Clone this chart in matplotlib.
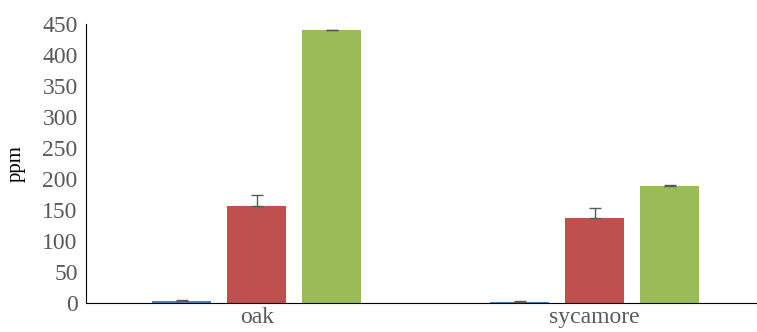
import numpy as np
import matplotlib.pyplot as plt

plt.rcParams['font.family'] = ['Liberation Serif', 'DejaVu Serif']

trees = ['oak', 'sycamore']
series_a = [3, 2]
series_b = [157, 137]
series_c = [440, 189]
err_a = [1.5, 1.0]
err_b = [17, 17]
err_c = [1, 1]

colors = ['#4F81BD', '#C0504D', '#9BBB59']
grey = '#595959'

fig = plt.figure(figsize=(7.57, 3.32), dpi=100)
ax = fig.add_axes([0.1136, 0.0873, 0.886, 0.8404])

x = np.arange(len(trees))
w = 0.175
step = 0.222
for i, (vals, errs) in enumerate([(series_a, err_a), (series_b, err_b), (series_c, err_c)]):
    ax.bar(x + (i - 1) * step, vals, w, color=colors[i], zorder=2)
    ax.errorbar(x + (i - 1) * step, vals, yerr=[np.zeros(len(errs)), errs],
                fmt='none', ecolor=grey, elinewidth=1, capsize=4, capthick=1, zorder=3)

ax.set_xlim(-0.505, 1.48)
ax.set_ylim(0, 450)
ax.set_yticks(np.arange(0, 451, 50))
ax.set_xticks(x)
ax.set_xticklabels(trees)
ax.tick_params(axis='both', length=0, labelsize=17, labelcolor=grey)
ax.tick_params(axis='y', pad=6)
ax.tick_params(axis='x', pad=3)
ax.set_ylabel('ppm', fontsize=15, labelpad=12)

for s in ['top', 'right']:
    ax.spines[s].set_visible(False)
ax.spines['left'].set_color('black')
ax.spines['bottom'].set_color('black')

fig.savefig('out.png', dpi=100)
